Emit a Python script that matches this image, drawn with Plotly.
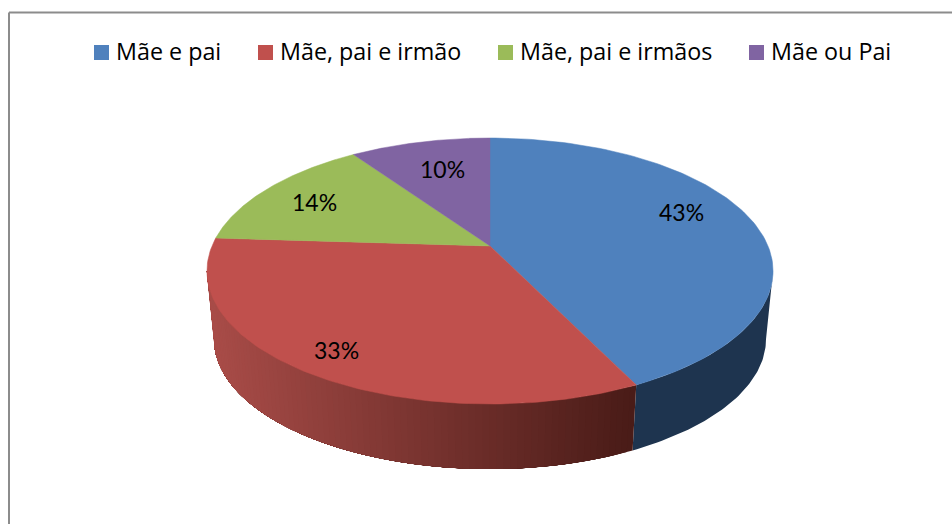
import numpy as np
import plotly.graph_objects as go

# chart data
categories = ['Mãe e pai', 'Mãe, pai e irmão', 'Mãe, pai e irmãos', 'Mãe ou Pai']
values = [42.8, 33.2, 14.4, 9.6]
colors = ['#4f81bd', '#c0504d', '#9bbb59', '#8064a2']

# where things go, in pixels of the 952x524 page
label_x = [681, 336, 314, 442]
label_y = [212, 350, 202, 169]
swatch_x = [101.5, 265.5, 505.5, 756.5]
legend_text_x = [113.5, 277.5, 517.5, 768.5]
swatch_y = 52.5
legend_text_y = 51

W, H = 952, 524
CX = 490        # pie centre on screen
TOP_Y = 246     # centre of the top face
BOTTOM_Y = 315  # centre of the lower rim
RX, RY = 278, 128.3
PERSP = 0.188   # far edge is drawn smaller than the near edge
BOTTOM_SCALE = 0.975


def rim(theta, cy, scale=1.0):
    # theta in radians, clockwise from 12 o'clock
    w = 1 + PERSP * np.cos(theta)
    return CX + scale * RX * np.sin(theta) / w, cy - scale * RY * np.cos(theta) / w


def wall(a, b, color):
    # outer wall of the pie between two angles
    t = np.linspace(a, b, 60)
    x1, y1 = rim(t, TOP_Y)
    x2, y2 = rim(t[::-1], BOTTOM_Y, BOTTOM_SCALE)
    fig.add_trace(go.Scatter(x=np.r_[x1, x2], y=np.r_[y1, y2], fill='toself', mode='lines',
                             fillcolor=color, line=dict(width=0),
                             hoverinfo='skip', showlegend=False))


def red_shade(x):
    # side of the red slice gets darker to the right
    t = np.clip((x - 207) / (635 - 207), 0, 1)
    left, right = (170, 77, 73), (74, 28, 24)
    return 'rgb(%d,%d,%d)' % tuple(a + (b - a) * t for a, b in zip(left, right))


edges = np.radians(np.cumsum([0] + values) / sum(values) * 360)
# the wall only shows between the two widest points of the rim
vis_start = np.arccos(-PERSP)
vis_end = 2 * np.pi - vis_start

fig = go.Figure()

wall(vis_start, edges[1], '#1e344f')

# each band runs to the end of the slice and the next one paints over it, so no seams
for a in np.linspace(edges[1], vis_end, 90)[:-1]:
    wall(a, vis_end, red_shade(rim(np.array([a]), TOP_Y)[0][0]))

# top faces
for i, color in enumerate(colors):
    t = np.linspace(edges[i], edges[i + 1], 120)
    x, y = rim(t, TOP_Y)
    fig.add_trace(go.Scatter(x=np.r_[CX, x, CX], y=np.r_[TOP_Y, y, TOP_Y], fill='toself',
                             mode='lines', fillcolor=color, line=dict(color=color, width=0.5),
                             hoverinfo='skip', showlegend=False))

# legend row, the gaps in the original are not what plotly's legend gives
for i, name in enumerate(categories):
    fig.add_trace(go.Scatter(x=[swatch_x[i]], y=[swatch_y], mode='markers', name=name,
                             marker=dict(symbol='square', size=15, color=colors[i], line=dict(width=0)),
                             showlegend=False))
    fig.add_annotation(x=legend_text_x[i], y=legend_text_y, text=name, showarrow=False, xanchor='left',
                       font=dict(family='Open Sans', size=23.3, color='#000000'))

for i, v in enumerate(values):
    fig.add_annotation(x=label_x[i], y=label_y[i], text='%.0f%%' % v, showarrow=False,
                       font=dict(family='Lato', size=23, color='#000000'))

# chart frame, only the top and left edges show in the picture
fig.add_shape(type='line', x0=9, x1=W, y0=12.5, y1=12.5, line=dict(color='#8c8c8c', width=2))
fig.add_shape(type='line', x0=9, x1=9, y0=12.5, y1=H, line=dict(color='#8c8c8c', width=2))

fig.update_layout(
    width=W,
    height=H,
    margin=dict(l=0, r=0, t=0, b=0),
    paper_bgcolor='white',
    plot_bgcolor='white',
    xaxis=dict(range=[0, W], visible=False, fixedrange=True),
    yaxis=dict(range=[H, 0], visible=False, fixedrange=True),
    showlegend=False,
)
fig.write_html('out.html', config=dict(displayModeBar=False),
               post_script="document.body.style.margin='0';")
